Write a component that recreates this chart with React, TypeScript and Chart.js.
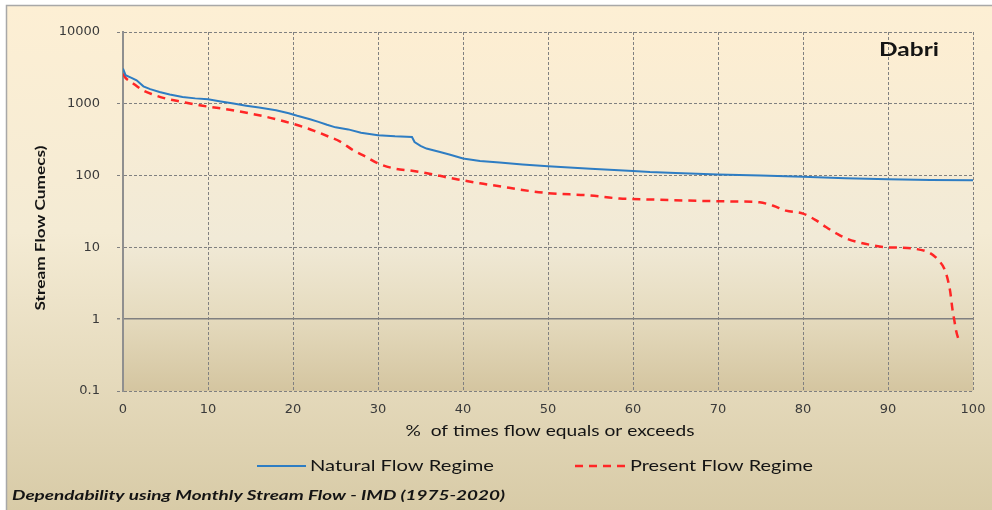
import React, { useEffect, useRef } from "react";
import { Chart, registerables } from "chart.js";

Chart.register(...registerables);

// ---------- data ----------
const seriesNames = ["Natural Flow Regime", "Present Flow Regime"];
const stationName = "Dabri";
const xAxisTitle = "%  of times flow equals or exceeds";
const yAxisTitle = "Stream Flow Cumecs)";
const footerText = "Dependability using Monthly Stream Flow - IMD (1975-2020)";

const yTickValues = [0.1, 1, 10, 100, 1000, 10000];
const xTickStep = 10;
const xMin = 0;
const xMax = 100;

const naturalPct = [
  0, 0.3, 1, 1.6, 2.4, 3.2, 4.3, 5.5, 7, 8.5, 10, 11.5, 13, 14.5, 16, 18, 19.5,
  20.5, 22, 23, 24, 25, 26.5, 28, 30, 32, 34, 34.3, 35, 35.7, 37.3, 38.5, 40,
  42, 44.3, 47, 50, 55, 60, 62, 65, 70, 75, 80, 85, 90, 95, 100,
];
const naturalFlow = [
  3100, 2500, 2300, 2120, 1750, 1600, 1460, 1350, 1245, 1190, 1155, 1080, 1007,
  940, 885, 813, 740, 680, 610, 560, 510, 470, 440, 395, 364, 352, 345, 294,
  260, 238, 213, 195, 173, 160, 152, 143, 135, 125, 116, 112, 109, 104, 100, 96,
  92, 89, 87, 86,
];

const presentPct = [
  0, 0.3, 1, 2.35, 3.5, 5.1, 7, 9, 11, 12.9, 15, 16.9, 18.5, 20.2, 21.2, 22.5,
  24.3, 25.5, 27.1, 28.5, 30, 32, 34, 36.5, 38, 40, 42, 44.3, 47, 50, 54.9,
  58.4, 62, 66, 70, 72.5, 74.9, 76.5, 78, 80, 81.5, 82.7, 84, 85.1, 86.5, 88.2,
  90, 91.5, 93.3, 94.9, 96, 96.7, 97.3, 97.6, 97.8, 98, 98.4,
];
const presentFlow = [
  2630, 2300, 2000, 1540, 1350, 1180, 1060, 953, 880, 813, 730, 656, 590, 518,
  476, 420, 345, 300, 225, 185, 148, 125, 117, 104, 95, 86, 78, 71, 63, 57, 53,
  48, 46.5, 45, 44, 43.5, 42.5, 38, 32.5, 29.6, 24, 19.2, 15.5, 13.3, 11.8,
  10.7, 10, 9.9, 9.5, 8.4, 6.5, 4.8, 2.5, 1.33, 0.97, 0.7, 0.48,
];

// ---------- styles ----------
const BLUE = "#2E7DC3";
const RED = "#FF2626";
const GRID = "#808080";
const TEXT = "#141414";
const TICK = "#3a3a3a";
const RED_DASH = [8, 6];

function fitText(
  ctx: CanvasRenderingContext2D,
  text: string,
  font: string,
  x: number,
  y: number,
  width: number,
  align: "left" | "center",
  rotate = 0
) {
  ctx.save();
  ctx.font = font;
  ctx.fillStyle = TEXT;
  ctx.textAlign = "left";
  ctx.textBaseline = "alphabetic";
  const w = ctx.measureText(text).width;
  const sx = width / w;
  ctx.translate(x, y);
  if (rotate) ctx.rotate(rotate);
  ctx.scale(sx, 1);
  ctx.fillText(text, align === "center" ? -w / 2 : 0, 0);
  ctx.restore();
}

const backgroundPlugin = {
  id: "bg",
  beforeDraw(chart: any) {
    const { ctx, width, height, chartArea } = chart;
    ctx.save();
    ctx.fillStyle = "#ffffff";
    ctx.fillRect(0, 0, width, height);
    const g = ctx.createLinearGradient(0, 5, 0, height);
    g.addColorStop(0, "#fdefd4");
    g.addColorStop(0.45, "#f4ebd4");
    g.addColorStop(1, "#d8cba7");
    ctx.fillStyle = g;
    ctx.fillRect(6, 5, width - 6, height - 5);
    ctx.strokeStyle = "#a8a8a8";
    ctx.lineWidth = 1.5;
    ctx.beginPath();
    ctx.moveTo(6.5, height);
    ctx.lineTo(6.5, 5.5);
    ctx.lineTo(width, 5.5);
    ctx.stroke();
    const { left, top, right, bottom } = chartArea;
    const pg = ctx.createLinearGradient(0, top, 0, bottom);
    pg.addColorStop(0, "#fdeed2");
    pg.addColorStop(0.58, "#f1ead7");
    pg.addColorStop(0.78, "#e6dcc0");
    pg.addColorStop(1, "#d4c5a0");
    ctx.fillStyle = pg;
    ctx.fillRect(left, top, right - left, bottom - top);
    ctx.restore();
  },
};

const decorPlugin = {
  id: "decor",
  afterDraw(chart: any) {
    const { ctx } = chart;
    const ds = chart.data.datasets;
    fitText(ctx, stationName, "bold 18px Lato", 879, 56, 60, "left");
    fitText(ctx, xAxisTitle, "15px Lato", 550, 436, 289, "center");
    fitText(ctx, yAxisTitle, "bold 14px Lato", 45, 228, 165, "center", -Math.PI / 2);
    ctx.save();
    ctx.lineWidth = ds[0].borderWidth;
    ctx.strokeStyle = ds[0].borderColor;
    ctx.beginPath();
    ctx.moveTo(257, 466);
    ctx.lineTo(306, 466);
    ctx.stroke();
    ctx.lineWidth = ds[1].borderWidth;
    ctx.strokeStyle = ds[1].borderColor;
    ctx.setLineDash(ds[1].borderDash);
    ctx.beginPath();
    ctx.moveTo(575, 466);
    ctx.lineTo(626, 466);
    ctx.stroke();
    ctx.restore();
    fitText(ctx, ds[0].label, "15px Lato", 310, 471, 184, "left");
    fitText(ctx, ds[1].label, "15px Lato", 630, 471, 183, "left");
    fitText(ctx, footerText, "italic bold 13px Lato", 12, 500, 493, "left");
  },
};

export default function App() {
  const ref = useRef<HTMLCanvasElement>(null);
  useEffect(() => {
    const canvas = ref.current;
    if (!canvas) return;
    const chart = new Chart(canvas, {
      type: "line",
      data: {
        datasets: [
          {
            label: seriesNames[0],
            data: naturalPct.map((x, i) => ({ x, y: naturalFlow[i] })),
            borderColor: BLUE,
            borderWidth: 2,
            pointRadius: 0,
            fill: false,
            tension: 0,
          },
          {
            label: seriesNames[1],
            data: presentPct.map((x, i) => ({ x, y: presentFlow[i] })),
            borderColor: RED,
            borderWidth: 2.5,
            borderDash: RED_DASH,
            pointRadius: 0,
            fill: false,
            cubicInterpolationMode: "monotone",
          },
        ],
      },
      options: {
        responsive: false,
        animation: false,
        events: [],
        layout: { padding: { top: 32, right: 19, left: 0, bottom: 0 } },
        plugins: {
          legend: { display: false },
          tooltip: { enabled: false },
          title: { display: false },
        },
        scales: {
          x: {
            type: "linear",
            min: xMin,
            max: xMax,
            ticks: {
              stepSize: xTickStep,
              color: TICK,
              font: { family: "DejaVu Sans", size: 13 },
              padding: 11,
              maxRotation: 0,
            },
            grid: { color: GRID, drawTicks: false, lineWidth: 1 },
            border: { display: false, dash: [3, 2] },
            afterFit: (s: any) => {
              s.height = 119;
              s.paddingLeft = 0;
              s.paddingRight = 0;
            },
          },
          y: {
            type: "logarithmic",
            min: 0.1,
            max: 10000,
            afterBuildTicks: (s: any) => {
              s.ticks = yTickValues.map((v) => ({ value: v }));
            },
            ticks: {
              color: TICK,
              font: { family: "DejaVu Sans", size: 13 },
              padding: 17,
              autoSkip: false,
              callback: (v: any) => (v < 1 ? String(v) : String(Math.round(v))),
            },
            grid: {
              color: GRID,
              lineWidth: (c: any) => (c.tick && c.tick.value === 1 ? 1.5 : 1),
              tickLength: 6,
              drawTicks: true,
              tickBorderDash: [3, 2],
            },
            border: {
              display: true,
              color: "#8f8f8f",
              width: 2,
              dash: (c: any) => (c.tick && c.tick.value === 1 ? [] : [3, 2]),
            },
            afterFit: (s: any) => {
              s.width = 123;
            },
          },
        },
      } as any,
      plugins: [backgroundPlugin, decorPlugin],
    });
    return () => chart.destroy();
  }, []);
  return (
    <div style={{ position: "absolute", left: 0, top: 0, width: 992, height: 510 }}>
      <canvas ref={ref} width={992} height={510} style={{ display: "block", width: 992, height: 510 }} />
    </div>
  );
}
